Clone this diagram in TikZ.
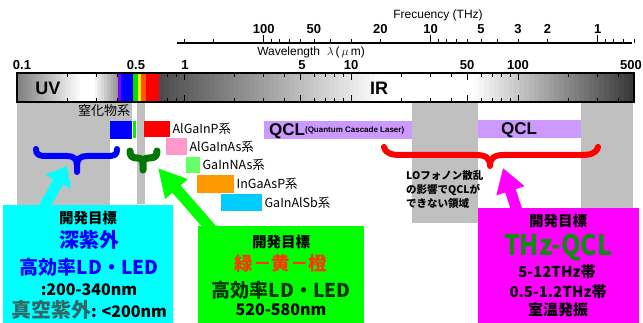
\documentclass[tikz,border=0pt]{standalone}
\usepackage{fontspec}
\setmainfont{Liberation Sans}
\newfontfamily\jp{Noto Sans CJK JP}
\usepackage{graphicx}
\usetikzlibrary{positioning,arrows.meta}
\definecolor{zonegray}{HTML}{C0C0C0}
\definecolor{qclviolet}{HTML}{CC99FF}
\definecolor{specviolet}{HTML}{8000FF}
\definecolor{specgreen}{HTML}{00DD00}
\definecolor{specorange}{HTML}{FF5500}
\definecolor{nitgreen}{HTML}{00EE00}
\definecolor{asppink}{HTML}{FF99CC}
\definecolor{naslime}{HTML}{66FF66}
\definecolor{asporange}{HTML}{FF9900}
\definecolor{sbsky}{HTML}{00CCFF}
\definecolor{bracegreen}{HTML}{007700}
\definecolor{goalcyan}{HTML}{00FFFF}
\definecolor{goalgreen}{HTML}{00FF00}
\definecolor{goalmagenta}{HTML}{FF00FF}
\definecolor{vuvteal}{HTML}{2F6767}
\definecolor{visorange}{HTML}{FF3300}
\definecolor{visdark}{HTML}{003300}
\definecolor{thzgreen}{HTML}{108A10}
% x position of a wavelength in um (log scale)
\newcommand\lx[1]{{184+167*log10(#1)}}

\begin{document}
\begin{tikzpicture}[x=1pt,y=-1pt,
  zone/.style={fill=zonegray},
  scaletick/.style={line width=0.8pt},
  scalenum/.style={font=\bfseries\fontsize{13}{13}\selectfont, anchor=base, inner sep=0pt},
  matbox/.style={anchor=north west, inner sep=0pt, draw=none},
  matlabel/.style={font=\jp\fontsize{12.5}{13}\selectfont, inner sep=0pt},
  qclbar/.style={anchor=north west, inner sep=0pt, fill=qclviolet},
  goalbox/.style={anchor=north west, inner sep=0pt},
  goalline/.style={font=\jp\bfseries\fontsize{#1}{#1}\selectfont, inner sep=0pt},
  brace/.style={line width=6pt, line cap=round, line join=round},
  bigarrow/.style={line width=11pt, -{Triangle[length=#1,width=28pt]}},
  bigarrow/.default=20pt]
  \useasboundingbox (0,0) rectangle (643,323);

  % regions
  \fill[zone] (17,102) rectangle (110,205);
  \fill[zone] (17,102) rectangle (132,121);
  \fill[zone] (136.6,102) rectangle (144.5,204);
  \fill[zone] (411.7,102) rectangle (477.7,223);
  \fill[zone] (581,102) rectangle (633,208);

  % frequency scale
  \node[font=\fontsize{12}{12}\selectfont] (freqtitle) at (438,15) {Frecuency (THz)};
  \draw[line width=2pt] (177,43) -- (632,43);
  \foreach \f in {300,200,90,80,70,60,40,30,9,8,7,6,4,0.9,0.8,0.7,0.6}
    \draw[scaletick] ({184+167*log10(300/\f)},43) -- +(0,-4);
  \foreach \f in {100,50,20,10,5,3,2,1}
    \draw[scaletick] ({184+167*log10(300/\f)},43) -- +(0,-4);
  \foreach \f in {100,10,1}
    \draw[line width=1.6pt] ({184+167*log10(300/\f)},43) -- +(0,-8);
  \foreach \f in {100,50,20,10,5,3,2,1}
    \node[scalenum] (f\f) at ({184+167*log10(300/\f)},34) {\f};

  \node[font=\fontsize{12}{12}\selectfont] (wltitle) at (311,52) {Wavelength \ $\lambda$\,(\,$\mu$\,m)};

  % wavelength bar
  \foreach \s [evaluate=\s as \xa using 17+3*\s,
               evaluate=\s as \g using {max(0,(80-\xa)/63*50,(\xa-92)/26*45)}] in {0,...,33}
    \fill[black!\g] (\xa,73) rectangle ({\xa+3.4},102);
  \foreach \s [evaluate=\s as \xa using 159+5*\s,
               evaluate=\s as \g using {max(0,(380-\xa)/221*70,(\xa-470)/164*80)}] in {0,...,94}
    \fill[black!\g] (\xa,73) rectangle ({min(\xa+5.4,634)},102);
  \foreach \l in {0.2,0.3,0.4,0.6,0.7,0.8,0.9,2,3,4,6,7,8,9,20,30,40,60,70,80,90,200,300,400} {
    \draw[scaletick] (\lx{\l},73) -- +(0,4);
    \draw[scaletick] (\lx{\l},102) -- +(0,-4);
  }
  \foreach \l in {1,5,10,50,100} {
    \draw[scaletick] (\lx{\l},73) -- +(0,7);
    \draw[scaletick] (\lx{\l},102) -- +(0,-7);
  }
  \fill[specviolet] (117.7,73) rectangle (121,102);
  \fill[blue] (121,73) rectangle (133.3,102);
  \fill[specgreen] (133.3,73) rectangle (138,102);
  \fill[yellow] (138,73) rectangle (140.7,102);
  \fill[specorange] (140.7,73) rectangle (146,102);
  \fill[red] (146,73) rectangle (159,102);
  \draw[line width=1.5pt] (17,73) rectangle (634,102);
  \foreach \l/\x [count=\i] in {0.1/22,0.5/136,1/185,5/302,10/351,50/467,100/518,500/631}
    \node[scalenum] (w\i) at (\x,70) {\l};
  \node[font=\bfseries\fontsize{18}{18}\selectfont] (uv) at (48,88) {UV};
  \node[font=\bfseries\fontsize{18}{18}\selectfont] (ir) at (379,88) {IR};

  % materials
  \node[font=\jp\fontsize{13}{13}\selectfont, inner sep=0pt] (nitride) at (104,111) {窒化物系};
  \node[matbox, fill=blue, minimum width=22pt, minimum height=18pt] (gan) at (110,121) {};
  \node[matbox, fill=nitgreen, minimum width=3.3pt, minimum height=17pt] (ingan) at (gan.north east) {};
  \node[matbox, fill=red, minimum width=26pt, minimum height=16pt] (algainpbox) at (144,121) {};
  \node[matlabel, right=2pt of algainpbox] (algainp) {AlGaInP系};
  \node[matbox, fill=asppink, minimum width=21pt, minimum height=17pt] (algainasbox) at (166,138) {};
  \node[matlabel, right=2pt of algainasbox] (algainas) {AlGaInAs系};
  \node[matbox, fill=naslime, minimum width=14pt, minimum height=16pt] (gainnasbox) at (186,157) {};
  \node[matlabel, right=2pt of gainnasbox] (gainnas) {GaInNAs系};
  \node[matbox, fill=asporange, minimum width=37pt, minimum height=18pt] (ingaaspbox) at (197,175) {};
  \node[matlabel, right=2pt of ingaaspbox] (ingaasp) {InGaAsP系};
  \node[matbox, fill=sbsky, minimum width=41pt, minimum height=17pt] (gainalsbbox) at (221,194) {};
  \node[matlabel, right=2pt of gainalsbbox] (gainalsb) {GaInAlSb系};

  % QCL bands
  \node[qclbar, minimum width=147.7pt, minimum height=18pt] (qclmid) at (264,121) {};
  \node[anchor=west, inner sep=0pt, font=\bfseries\fontsize{17}{17}\selectfont] (qclmidtext) at (269,131)
    {QCL\raisebox{3pt}{\fontsize{8}{8}\selectfont(Quantum Cascade Laser)}};
  \node[qclbar, minimum width=103pt, minimum height=18pt] (qclfar) at (478,120) {};
  \node[font=\bfseries\fontsize{17}{17}\selectfont] (qclfartext) at (519,130) {QCL};
  \node[anchor=north west, align=left, inner sep=0pt, font=\jp\bfseries\fontsize{10.5}{14}\selectfont]
    (lophonon) at (406,170) {LOフォノン散乱\\の影響でQCLが\\できない領域};

  % braces
  \draw[brace, blue] (36,149) .. controls (36,155) and (39,156) .. (47,156) -- (67,156)
    .. controls (74,156) and (77,159) .. (77,166) -- (77,172)
    (77,166) .. controls (77,159) and (80,156) .. (87,156) -- (107,156)
    .. controls (115,156) and (117,155) .. (117,149);
  \draw[brace, bracegreen, line width=7pt] (130,151) .. controls (130,156) and (132,158) .. (137,158)
    .. controls (142,158) and (143,160) .. (143,165) -- (143,170)
    (143,165) .. controls (143,160) and (144,158) .. (149,158)
    .. controls (155,158) and (157,156) .. (157,151);
  \draw[brace, red] (384,147) .. controls (386,154) and (392,155) .. (402,155) -- (476,155)
    .. controls (486,155) and (490,158) .. (490,166)
    (490,166) .. controls (490,158) and (494,155) .. (504,155) -- (580,155)
    .. controls (590,155) and (596,154) .. (598,147);

  % goals
  \node[goalbox, fill=goalcyan, minimum width=170pt, minimum height=118pt] (uvgoal) at (3,205) {};
  \node[goalbox, fill=goalgreen, minimum width=166pt, minimum height=97pt] (visgoal) at (198,226) {};
  \node[goalbox, fill=goalmagenta, minimum width=161pt, minimum height=115pt] (thzgoal) at (478,208) {};
  \coordinate (uvaim) at (67,166);
  \coordinate (visaim) at (158,168);
  \coordinate (thzaim) at (503,168);
  \draw[bigarrow=18pt, goalcyan] ([xshift=39pt,yshift=-6pt]uvgoal.north west) -- (uvaim);
  \draw[bigarrow=28pt, goalgreen] ([xshift=16pt,yshift=-6pt]visgoal.north west) -- (visaim);
  \draw[bigarrow=24pt, goalmagenta] ([xshift=40pt,yshift=-6pt]thzgoal.north west) -- (thzaim);

  \node[goalline=14.5] (uvhead) at (88,218) {開発目標};
  \node[goalline=20, text=blue] (uvname) at (89,240) {深紫外};
  \node[goalline=19, text=blue] (uvled) at (89,267) {高効率LD・LED};
  \node[goalline=16] (uvrange) at (89,290) {:200-340nm};
  \node[goalline=16] (vuvrange) at (89,310) {{\fontsize{20}{20}\selectfont\color{vuvteal}真空紫外}: <200nm};

  \node[goalline=14.5] (vishead) at (281,242) {開発目標};
  \node[goalline=18.5, text=visorange] (viscolor) at (281,263) {緑－黄－橙};
  \node[goalline=19, text=visdark] (visled) at (281,290) {高効率LD・LED};
  \node[goalline=16] (visrange) at (281,310) {520-580nm};

  \node[goalline=14.5] (thzhead) at (558,221) {開発目標};
  \node[goalline=27, text=thzgreen] (thzname) at (558,248) {\scalebox{0.92}[1.05]{THz-QCL}};
  \node[goalline=15] (thzband) at (557,272) {5-12THz帯};
  \node[goalline=15] (thzsub) at (558,292) {0.5-1.2THz帯};
  \node[goalline=15] (thzroom) at (558,310) {室温発振};
\end{tikzpicture}
\end{document}
